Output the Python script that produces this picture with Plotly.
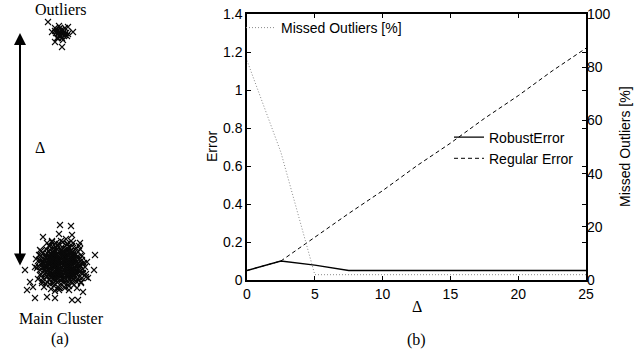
import plotly.graph_objects as go

# ---------------- Panel (b) data ----------------
delta = [0, 2.5, 5, 7.5, 10, 12.5, 15, 17.5, 20, 22.5, 25]
robust_error = [0.05, 0.10, 0.078, 0.05, 0.05, 0.05, 0.05, 0.05, 0.05, 0.05, 0.05]
regular_error = [0.05, 0.10, 0.225, 0.35, 0.47, 0.60, 0.72, 0.85, 0.97, 1.10, 1.22]
missed_outliers = [82.5, 48, 2, 2, 2, 2, 2, 2, 2, 2, 2]

# ---------------- Panel (a) data (offsets from cluster centres) ----------------
main_dx = [
    -7, -3, 1, 5, 8,
    -11, -7, -4, 0, 3, 7, 10, 13,
    -14, -10, -6, -3, 1, 4, 8, 11, 15,
    -16, -12, -9, -5, -2, 2, 5, 9, 12, 16,
    -17, -13, -10, -6, -3, 0, 4, 7, 11, 14, 18,
    -18, -14, -11, -7, -4, -1, 3, 6, 10, 13, 17,
    -19, -15, -12, -8, -5, -2, 2, 5, 8, 12, 15, 19,
    -18, -14, -10, -7, -3, 0, 4, 7, 11, 14, 18,
    -17, -13, -10, -6, -2, 1, 5, 8, 12, 15, 18,
    -16, -12, -8, -5, -1, 2, 6, 9, 13, 16,
    -14, -11, -7, -4, 0, 3, 7, 10, 14,
    -12, -8, -5, -1, 2, 6, 9, 12,
    -8, -4, 0, 3, 7,
    -12, -8, -5, -1, 2, 6, 9, 12,
    -15, -11, -7, -4, 0, 3, 7, 10, 14,
    -15, -11, -8, -4, -1, 2, 6, 9, 13, 16,
    -16, -12, -9, -5, -2, 2, 5, 8, 12, 15,
    -17, -13, -10, -6, -3, 1, 4, 7, 10, 14, 17,
    -17, -13, -9, -6, -3, 0, 3, 6, 10, 13, 17,
    -16, -12, -8, -4, -1, 3, 6, 10, 13, 16,
    -15, -11, -7, -3, 0, 4, 7, 11, 14,
    -13, -9, -6, -2, 1, 5, 8, 12,
    -10, -6, -3, 1, 4, 8, 11,
    22, 21, 20, 17, 15, 11, 7, 2, -2, -7, -11, -15, -18, -20, -21,
    -23, -21, -20, -18, -14, -11, -7, -2, 3, 7, 11, 15, 18, 20, 22,
    26, 18, 5, -9, -21, -26, -19, -6, 8, 20, 25, -14,
    -22, -21, 21, 22, -5, 6, -20, 19, -19, 18, -3, 8, -24, 23, 0, -12, 13, -15,
    -23, 24, -22, 21, -10, 12, -2, 4, -25, 25, -17, 16, -9, 10, 20, -20,
    -1, 10, -2, 11, 19, 34, -36, 33, -31, -34, -26, -14, -6, 11, 17, 22, 27, -18, -28,
]
main_dy = [
    17, 19, 18, 16, 18,
    15, 14, 16, 15, 13, 16, 14, 12,
    12, 11, 13, 12, 11, 13, 12, 10, 11,
    9, 8, 10, 9, 8, 10, 9, 8, 10, 8,
    6, 5, 7, 6, 5, 7, 6, 5, 7, 6, 5,
    3, 2, 4, 3, 2, 4, 3, 2, 4, 3, 2,
    0, -1, 1, 0, -1, 1, 0, -1, 1, 0, -1, 0,
    -3, -2, -4, -3, -2, -4, -3, -2, -4, -3, -2,
    -6, -5, -7, -6, -5, -7, -6, -5, -7, -6, -5,
    -9, -8, -10, -9, -8, -10, -9, -8, -10, -9,
    -12, -11, -13, -12, -11, -13, -12, -11, -13,
    -15, -14, -16, -15, -14, -16, -15, -14,
    -18, -17, -19, -18, -17,
    14, 13, 14, 13, 14, 13, 14, 13,
    10, 11, 10, 11, 10, 11, 10, 11, 10,
    7, 8, 7, 8, 7, 8, 7, 8, 7, 8,
    4, 5, 4, 5, 4, 5, 4, 5, 4, 5,
    1, 2, 1, 2, 1, 2, 1, 2, 1, 2, 1,
    -1, -2, -1, -2, -1, -2, -1, -2, -1, -2, -1,
    -4, -5, -4, -5, -4, -5, -4, -5, -4, -5,
    -7, -8, -7, -8, -7, -8, -7, -8, -7,
    -10, -11, -10, -11, -10, -11, -10, -11,
    -13, -14, -13, -14, -13, -14, -13,
    1, 5, 10, 13, 17, 19, 21, 23, 21, 20, 19, 16, 12, 9, 4,
    -1, -5, -9, -13, -17, -19, -21, -23, -22, -20, -18, -16, -12, -8, -4,
    3, 19, 26, 24, 15, -2, -18, -26, -25, -17, -9, 22,
    5, -10, 9, -8, 22, 21, 14, 16, -16, -15, -22, -21, -3, 2, 24, 19, -20, -19,
    -14, -2, 10, -13, -24, 22, -25, -23, 6, -12, -22, -23, 23, 24, -18, 9,
    40, 39, 31, 30, 22, 10, -5, -5, -17, -25, -33, -32, -33, -35, -35, -27, -13, 28, -22,
]
outlier_dx = [0, -2, 2, 1, -1, 3, -3, 4, -4, 0, 0, 2, -2, 3, -3, 5, -5, 1, -1, 6, -6,
              -4, 4, -6, 7, 2, -2,
              -13, -9, -6, 1, 12, 7, -3]
outlier_dy = [0, 1, -1, 2, -2, 1, -1, -2, 2, 3, -3, 3, -3, -3, 3, 0, 0, -5, 5, -3, 2,
              -5, 5, 5, -1, -7, 7,
              11, 1, -9, -14, 1, 6, -5]
main_centre = (0, 0)
outlier_centre = (0, 232)

FS = "Liberation Sans, Arial, sans-serif"
FSERIF = "Liberation Serif, Times New Roman, serif"

fig = go.Figure()

mk = dict(symbol="x-thin", size=6, line=dict(width=1.1, color="#0a0a0a"))
# panel (a) scatter
fig.add_trace(go.Scatter(
    x=[main_centre[0] + v for v in main_dx], y=[main_centre[1] + v for v in main_dy],
    mode="markers", xaxis="x3", yaxis="y3", showlegend=False, marker=mk))
fig.add_trace(go.Scatter(
    x=[outlier_centre[0] + v for v in outlier_dx], y=[outlier_centre[1] + v for v in outlier_dy],
    mode="markers", xaxis="x3", yaxis="y3", showlegend=False, marker=mk))

# panel (b) lines
fig.add_trace(go.Scatter(
    x=delta, y=missed_outliers, mode="lines", name="Missed Outliers [%]",
    xaxis="x", yaxis="y2", legend="legend",
    line=dict(color="#8a8a8a", width=1, dash="1px,2px")))
fig.add_trace(go.Scatter(
    x=delta, y=robust_error, mode="lines", name="RobustError",
    xaxis="x", yaxis="y", legend="legend2",
    line=dict(color="black", width=1.3)))
fig.add_trace(go.Scatter(
    x=delta, y=regular_error, mode="lines", name="Regular Error",
    xaxis="x", yaxis="y", legend="legend2",
    line=dict(color="black", width=1, dash="4px,3px")))

W, H = 640, 354
x0, x1, yt, yb = 247, 586, 14, 280

tickfont = dict(family=FS, size=14, color="black")
fig.update_layout(
    template="none",
    width=W, height=H, margin=dict(l=0, r=0, t=0, b=0, autoexpand=False),
    paper_bgcolor="white", plot_bgcolor="rgba(0,0,0,0)",
    xaxis=dict(domain=[x0 / W, x1 / W], range=[0, 25], dtick=5, ticks="inside", ticklen=4,
               showline=True, mirror="ticks", linecolor="black", linewidth=1.5, tickcolor="black",
               showgrid=False, zeroline=False, tickfont=tickfont, automargin=False),
    yaxis=dict(domain=[1 - yb / H, 1 - yt / H], range=[0, 1.4], dtick=0.2, ticks="inside", ticklen=4,
               showline=True, mirror="ticks", linecolor="black", linewidth=1.5, tickcolor="black",
               showgrid=False, zeroline=False, tickfont=tickfont, automargin=False),
    yaxis2=dict(overlaying="y", side="right", range=[0, 100], dtick=20, ticks="inside", ticklen=4,
                showline=False, tickcolor="black", showgrid=False, zeroline=False, tickfont=tickfont,
                automargin=False),
    xaxis3=dict(domain=[0, 130 / W], range=[-61, 69], visible=False, anchor="y3", automargin=False),
    yaxis3=dict(domain=[0, 1], range=[-89, 265], visible=False, anchor="x3", automargin=False),
    legend=dict(x=(281 - 40) / W, y=1 - 28 / H, xanchor="left", yanchor="middle",
                bgcolor="rgba(0,0,0,0)", borderwidth=0, font=dict(family=FS, size=14, color="black")),
    legend2=dict(x=(489 - 40) / W, y=1 - 148 / H, xanchor="left", yanchor="middle",
                 bgcolor="rgba(0,0,0,0)", borderwidth=0, font=dict(family=FS, size=14, color="black"),
                 tracegroupgap=0),
    showlegend=True,
)

ann = []
def txt(x, y, s, font, angle=0):
    ann.append(dict(x=x / W, y=1 - y / H, xref="paper", yref="paper", text=s, showarrow=False,
                    font=font, textangle=angle, xanchor="center", yanchor="middle"))

sans14 = dict(family=FS, size=14, color="black")
serif16 = dict(family=FSERIF, size=16, color="black")
txt(212, 147, "Error", sans14, -90)
txt(625, 147, "Missed Outliers [%]", sans14, -90)
txt(417, 306, "Δ", serif16)
txt(416, 340, "(b)", serif16)
txt(60, 339, "(a)", serif16)
txt(61, 9, "Outliers", serif16)
txt(61, 318, "Main Cluster", serif16)
txt(40, 147, "Δ", serif16)

# double-headed arrow in panel (a)
ann.append(dict(x=-41, y=232, ax=-41, ay=-2, xref="x3", yref="y3", axref="x3", ayref="y3",
                text="", showarrow=True, arrowhead=2, arrowside="end+start", arrowsize=1.2,
                arrowwidth=2, arrowcolor="black", standoff=0, startstandoff=0))
fig.update_layout(annotations=ann)

fig.write_html("out.html", config={"displayModeBar": False},
               post_script="document.body.style.margin='0';")
